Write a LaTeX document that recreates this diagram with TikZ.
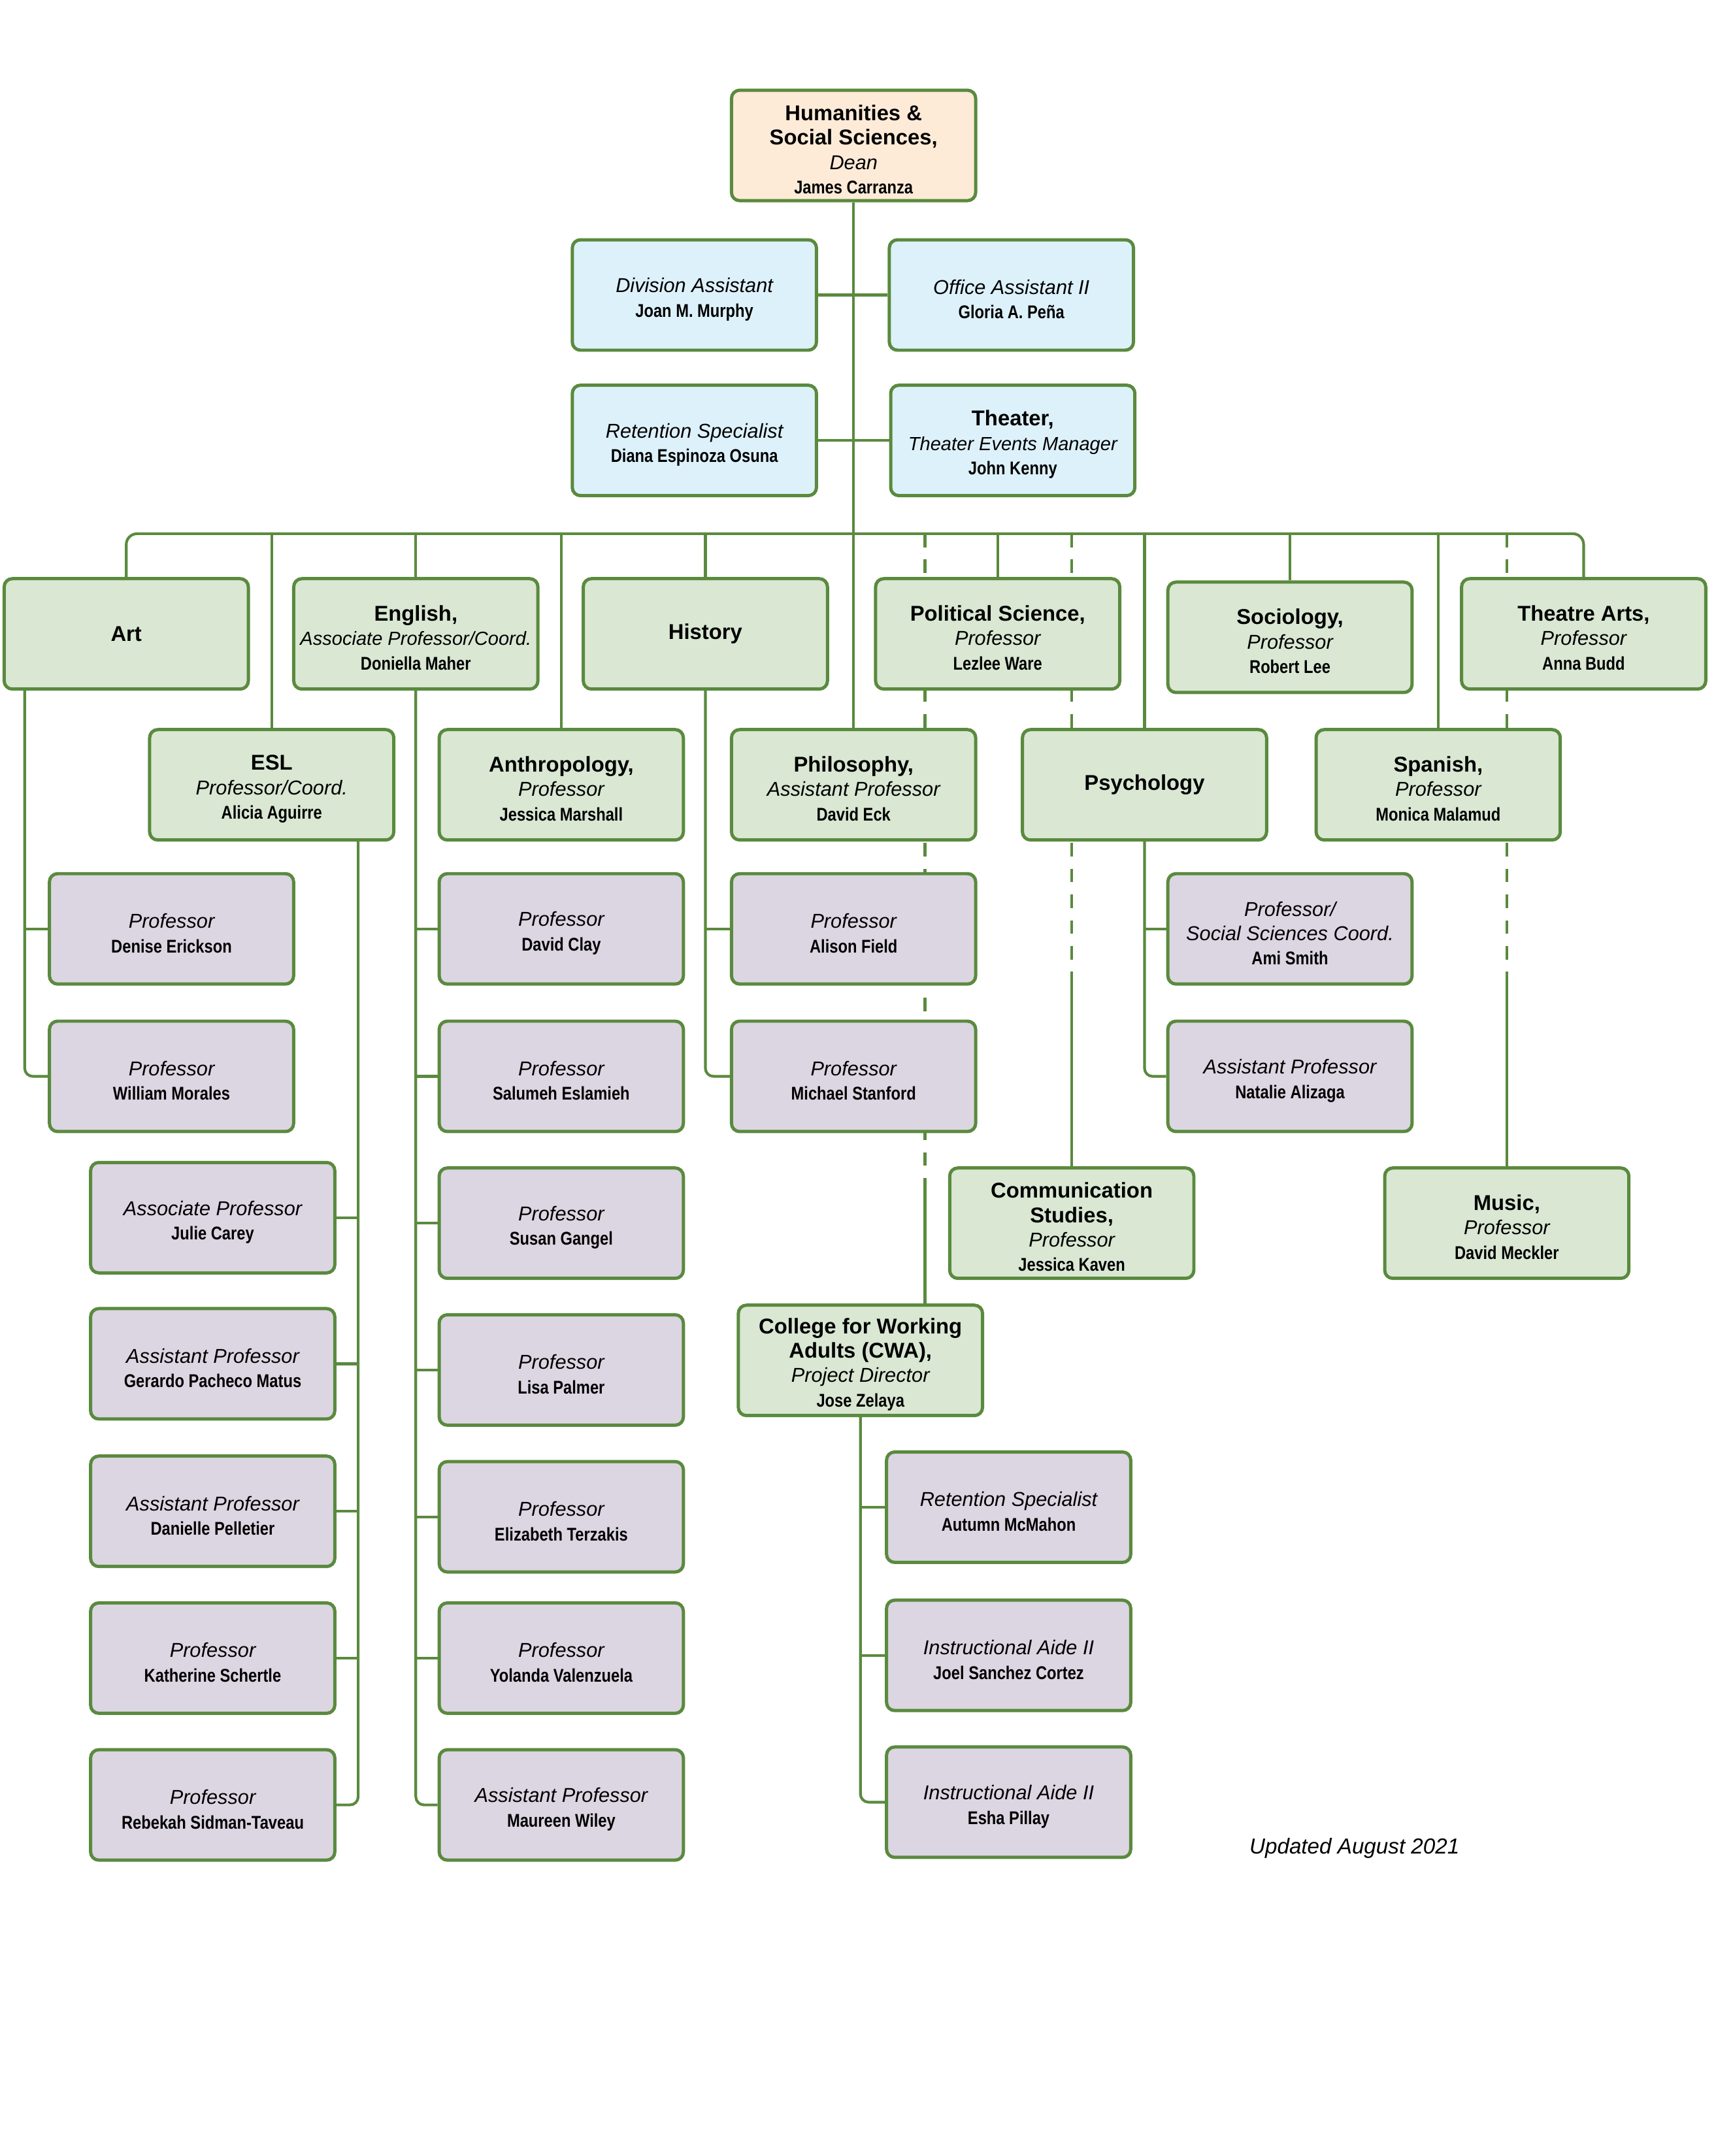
\documentclass[tikz,border=0pt]{standalone}
\usepackage{fontspec}
\setmainfont{Liberation Sans}
\newfontfamily\narrowfont[FakeStretch=0.84]{Liberation Sans}
\usetikzlibrary{backgrounds,calc}
\definecolor{hssgreen}{HTML}{5A8A3E}
\definecolor{deanfill}{HTML}{FDEBD8}
\definecolor{stafffill}{HTML}{DDF1FB}
\definecolor{deptfill}{HTML}{D9E7D3}
\definecolor{facfill}{HTML}{DCD5E2}
\newcommand{\tp}{\rule{0pt}{8.6pt}}
\newcommand{\hd}[1]{{\bfseries #1}}
\newcommand{\rl}[1]{{\fontsize{7.4}{9}\selectfont\itshape #1}}
\newcommand{\rls}[1]{{\fontsize{7}{9}\selectfont\itshape #1}}
\newcommand{\nm}[1]{{\narrowfont\fontsize{6.8}{9}\selectfont\bfseries #1}}
\tikzset{
  orgbox/.style={draw=hssgreen, line width=1.2pt, rounded corners=3pt,
    minimum width=90pt, minimum height=40.7pt, inner sep=1pt, align=center,
    font=\fontsize{7.9}{9}\selectfont},
  deanbox/.style={orgbox, fill=deanfill},
  staffbox/.style={orgbox, fill=stafffill},
  deptbox/.style={orgbox, fill=deptfill},
  facbox/.style={orgbox, fill=facfill},
  link/.style={draw=hssgreen, line width=1pt},
  dashlink/.style={link, dash pattern=on 5pt off 4.5pt},
}
\begin{document}
\begin{tikzpicture}[x=0.5058pt, y=-0.5058pt]
	\path[use as bounding box] (0,0) rectangle (1250,1571.4);

	\node[deanbox] (dean) at (622,106) {\tp\hd{Humanities \&}\\ \hd{Social Sciences,}\\ \rl{Dean}\\ \nm{James Carranza}};

	\node[staffbox] (divasst) at (506,215) {\tp\rl{Division Assistant}\\ \nm{Joan M. Murphy}};
	\node[staffbox] (offasst) at (737,215) {\tp\rl{Office Assistant II}\\ \nm{Gloria A. Peña}};
	\node[staffbox] (retspec) at (506,321) {\tp\rl{Retention Specialist}\\ \nm{Diana Espinoza Osuna}};
	\node[staffbox] (theater) at (738,321) {\tp\hd{Theater,}\\ \rls{Theater Events Manager}\\ \nm{John Kenny}};

	\node[deptbox] (art) at (92,462) {\hd{Art}};
	\node[deptbox] (english) at (303,462) {\tp\hd{English,}\\ \rls{Associate Professor/Coord.}\\ \nm{Doniella Maher}};
	\node[deptbox] (history) at (514,462) {\hd{History}};
	\node[deptbox] (polsci) at (727,462) {\tp\hd{Political Science,}\\ \rl{Professor}\\ \nm{Lezlee Ware}};
	\node[deptbox] (sociology) at (940,464.5) {\tp\hd{Sociology,}\\ \rl{Professor}\\ \nm{Robert Lee}};
	\node[deptbox] (theatrearts) at (1154,462) {\tp\hd{Theatre Arts,}\\ \rl{Professor}\\ \nm{Anna Budd}};

	\node[deptbox] (esl) at (198,572) {\tp\hd{ESL}\\ \rl{Professor/Coord.}\\ \nm{Alicia Aguirre}};
	\node[deptbox] (anthro) at (409,572) {\tp\hd{Anthropology,}\\ \rl{Professor}\\ \nm{Jessica Marshall}};
	\node[deptbox] (philo) at (622,572) {\tp\hd{Philosophy,}\\ \rl{Assistant Professor}\\ \nm{David Eck}};
	\node[deptbox] (psych) at (834,572) {\hd{Psychology}};
	\node[deptbox] (spanish) at (1048,572) {\tp\hd{Spanish,}\\ \rl{Professor}\\ \nm{Monica Malamud}};

	\node[facbox] (erickson) at (125,677) {\tp\rl{Professor}\\ \nm{Denise Erickson}};
	\node[facbox] (morales) at (125,784.5) {\tp\rl{Professor}\\ \nm{William Morales}};

	\node[facbox] (carey) at (155,887.5) {\tp\rl{Associate Professor}\\ \nm{Julie Carey}};
	\node[facbox] (pacheco) at (155,994) {\tp\rl{Assistant Professor}\\ \nm{Gerardo Pacheco Matus}};
	\node[facbox] (pelletier) at (155,1101.5) {\tp\rl{Assistant Professor}\\ \nm{Danielle Pelletier}};
	\node[facbox] (schertle) at (155,1208.5) {\tp\rl{Professor}\\ \nm{Katherine Schertle}};
	\node[facbox] (sidman) at (155,1315.5) {\tp\rl{Professor}\\ \nm{Rebekah Sidman-Taveau}};

	\node[facbox] (clay) at (409,677) {\tp\rl{Professor}\\ \nm{David Clay}};
	\node[facbox] (eslamieh) at (409,784.5) {\tp\rl{Professor}\\ \nm{Salumeh Eslamieh}};
	\node[facbox] (gangel) at (409,891.5) {\tp\rl{Professor}\\ \nm{Susan Gangel}};
	\node[facbox] (palmer) at (409,998.5) {\tp\rl{Professor}\\ \nm{Lisa Palmer}};
	\node[facbox] (terzakis) at (409,1105.5) {\tp\rl{Professor}\\ \nm{Elizabeth Terzakis}};
	\node[facbox] (valenzuela) at (409,1208.5) {\tp\rl{Professor}\\ \nm{Yolanda Valenzuela}};
	\node[facbox] (wiley) at (409,1315.5) {\tp\rl{Assistant Professor}\\ \nm{Maureen Wiley}};

	\node[facbox] (field) at (622,677) {\tp\rl{Professor}\\ \nm{Alison Field}};
	\node[facbox] (stanford) at (622,784.5) {\tp\rl{Professor}\\ \nm{Michael Stanford}};

	\node[facbox] (smith) at (940,677) {\tp\rl{Professor/}\\ \rl{Social Sciences Coord.}\\ \nm{Ami Smith}};
	\node[facbox] (alizaga) at (940,784.5) {\tp\rl{Assistant Professor}\\ \nm{Natalie Alizaga}};

	\node[deptbox] (comm) at (781,891.5) {\tp\hd{Communication}\\ \hd{Studies,}\\ \rl{Professor}\\ \nm{Jessica Kaven}};
	\node[deptbox] (music) at (1098,891.5) {\tp\hd{Music,}\\ \rl{Professor}\\ \nm{David Meckler}};

	\node[deptbox] (cwa) at (627,991.5) {\tp\hd{College for Working}\\ \hd{Adults (CWA),}\\ \rl{Project Director}\\ \nm{Jose Zelaya}};
	\node[facbox] (mcmahon) at (735,1098.5) {\tp\rl{Retention Specialist}\\ \nm{Autumn McMahon}};
	\node[facbox] (sanchez) at (735,1206.5) {\tp\rl{Instructional Aide II}\\ \nm{Joel Sanchez Cortez}};
	\node[facbox] (pillay) at (735,1313.5) {\tp\rl{Instructional Aide II}\\ \nm{Esha Pillay}};

	\node (updated) at (987,1347) {\fontsize{8}{9}\selectfont\itshape Updated August 2021};

	\begin{scope}[on background layer]
		\coordinate (bus) at (622,389);
		\coordinate (cwaBus) at (674,389);
		\coordinate (cwaSolid) at (674,866);
		\coordinate (commBus) at (781,389);
		\coordinate (commSolid) at (781,716);
		\coordinate (musicBus) at (1098,389);
		\coordinate (musicSolid) at (1098,716);
		\coordinate (artL) at ($(art.south)+(-74,0)$);
		\coordinate (eslR) at ($(esl.south)+(63,0)$);

		\draw[link] (dean) -- (philo);
		\draw[link] (divasst.east) -- (offasst.west);
		\draw[link] (retspec.east) -- (theater.west);
		\draw[link, rounded corners=4pt] (art.north) |- (bus) -| (theatrearts.north);
		\foreach \d in {english,history,polsci,sociology,esl,anthro,psych,spanish}
			\draw[link] (\d.north) -- (\d.north |- bus);

		\draw[dashlink] (cwaBus) -- (cwaSolid);
		\draw[link] (cwaSolid) -- (cwa.north -| cwaSolid);
		\draw[dashlink] (commBus) -- (commSolid);
		\draw[link] (commSolid) -- (comm.north);
		\draw[dashlink] (musicBus) -- (musicSolid);
		\draw[link] (musicSolid) -- (music.north);

		\draw[link, rounded corners=3pt] (artL) |- (morales.west);
		\draw[link] (erickson.west -| artL) -- (erickson.west);

		\draw[link, rounded corners=3pt] (eslR) |- (sidman.east);
		\foreach \p in {carey,pacheco,pelletier,schertle}
			\draw[link] (\p.east) -- (\p.east -| eslR);

		\draw[link, rounded corners=3pt] (english.south) |- (wiley.west);
		\foreach \p in {clay,eslamieh,gangel,palmer,terzakis,valenzuela}
			\draw[link] (\p.west -| english.south) -- (\p.west);

		\draw[link, rounded corners=3pt] (history.south) |- (stanford.west);
		\draw[link] (field.west -| history.south) -- (field.west);

		\draw[link, rounded corners=3pt] (psych.south) |- (alizaga.west);
		\draw[link] (smith.west -| psych.south) -- (smith.west);

		\draw[link, rounded corners=3pt] (cwa.south) |- (pillay.west);
		\foreach \p in {mcmahon,sanchez}
			\draw[link] (\p.west -| cwa.south) -- (\p.west);
	\end{scope}
\end{tikzpicture}
\end{document}
